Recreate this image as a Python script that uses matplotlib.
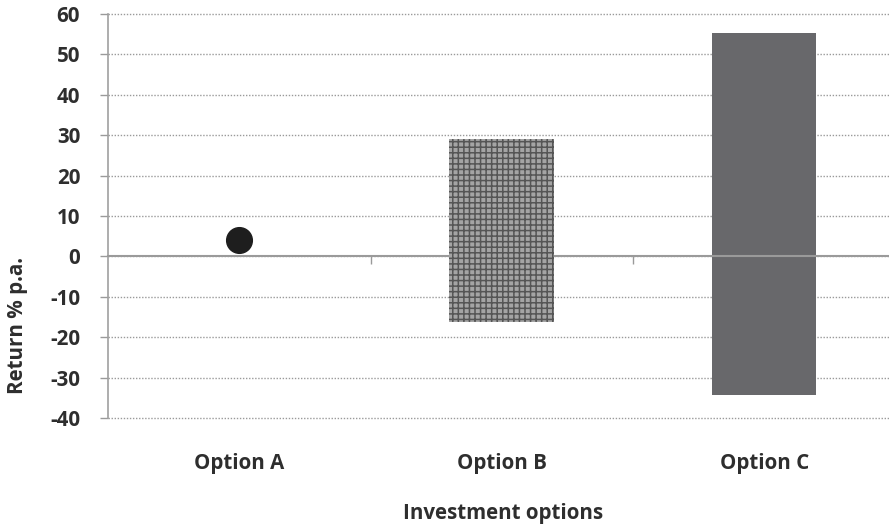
import matplotlib
matplotlib.use("Agg")
import matplotlib.pyplot as plt
import matplotlib.transforms as mtransforms

# Data
categories = ["Option A", "Option B", "Option C"]
point_value = 4            # Option A: fixed return
range_low = [-16.3, -34.4]  # Options B and C: worst case
range_high = [29, 55.2]     # Options B and C: best case
y_ticks = [-40, -30, -20, -10, 0, 10, 20, 30, 40, 50, 60]

plt.rcParams["font.family"] = ["Open Sans", "DejaVu Sans"]
plt.rcParams["hatch.linewidth"] = 1.1
plt.rcParams["axes.unicode_minus"] = False

W, H = 889, 528
FS = 14.8
TXT = "#2e2e2e"
fig = plt.figure(figsize=(W / 100, H / 100), dpi=100)
ax = fig.add_axes([108 / W, (H - 418) / H, 1 - 108 / W, (418 - 14) / H])

ax.set_ylim(-40, 60)
ax.set_xlim(-0.5, 2.475)

# grid
ax.set_yticks(y_ticks)
ax.yaxis.grid(True, linestyle=(0, (1, 1.2)), color="#9a9a9a", linewidth=1.0)
for gl in ax.yaxis.get_gridlines():
    gl.set_clip_on(False)
ax.set_axisbelow(True)

# Option A: single point
ax.plot([0], [point_value], marker="o", markersize=18.5, color="#1e1e1e",
        linestyle="none", zorder=4)

# Option B: textured range bar
ax.bar(1, range_high[0] - range_low[0], bottom=range_low[0], width=0.4,
       facecolor="#a4a4a4", edgecolor="#555555", hatch="+++", linewidth=0,
       zorder=4)
# Option C: solid range bar
ax.bar(2, range_high[1] - range_low[1], bottom=range_low[1], width=0.395,
       facecolor="#68686b", edgecolor="#68686b", linewidth=0, zorder=3)

# zero line acting as x axis
for s in ["top", "right"]:
    ax.spines[s].set_visible(False)
ax.spines["bottom"].set_position(("data", 0))
ax.spines["bottom"].set_color("#9a9a9a")
ax.spines["bottom"].set_linewidth(1.5)
ax.spines["bottom"].set_zorder(3.5)
ax.spines["left"].set_color("#a0a0a0")
ax.spines["left"].set_linewidth(1.2)

ax.set_xticks([0.5, 1.5])
ax.set_xticklabels([])
ax.tick_params(axis="x", direction="out", length=6, color="#9a9a9a", width=1)
ax.tick_params(axis="y", direction="out", length=6, color="#9a9a9a", width=1,
               pad=14, labelsize=FS, labelcolor=TXT)
for lbl in ax.get_yticklabels():
    lbl.set_fontweight("bold")

# category labels below the plot area
trans = mtransforms.blended_transform_factory(ax.transData, fig.transFigure)
for i, c in enumerate(categories):
    ax.text(i, (H - 464) / H, c, transform=trans, ha="center", va="center",
            fontsize=FS, fontweight="bold", color=TXT)

fig.text(503 / W, (H - 513) / H, "Investment options", ha="center",
         va="center", fontsize=FS, fontweight="bold", color=TXT)
fig.text(18 / W, (H - 325) / H, "Return % p.a.", ha="center", va="center",
         rotation=90, fontsize=FS, fontweight="bold", color=TXT)

fig.savefig("out.png", dpi=100)
